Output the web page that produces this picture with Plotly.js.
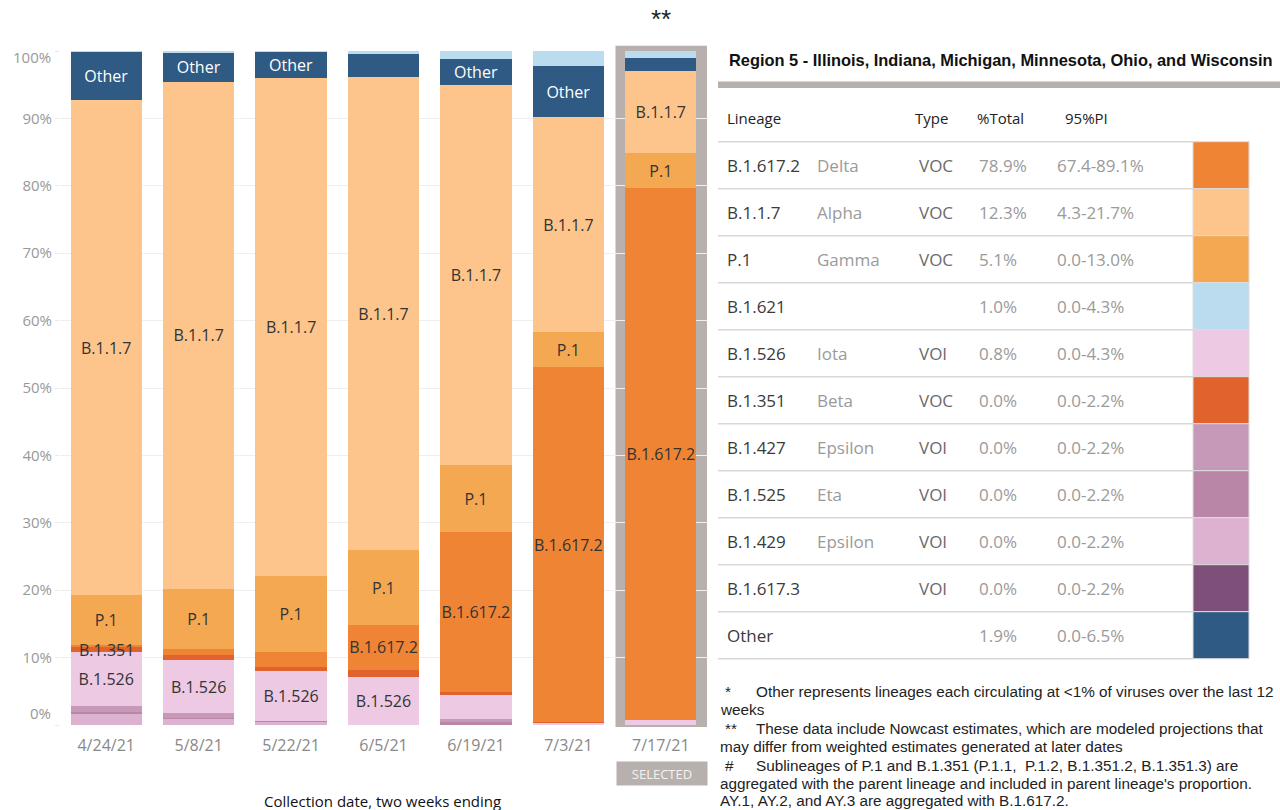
<!DOCTYPE html>
<html><head><meta charset="utf-8">
<script src="https://cdn.plot.ly/plotly-3.0.1.min.js"></script>
<style>html,body{margin:0;padding:0;background:#fff;} #chart{width:1280px;height:810px;}</style>
</head><body><div id="chart"></div>
<script>
// ---------- DATA ----------
const dates = ['4/24/21','5/8/21','5/22/21','6/5/21','6/19/21','7/3/21','7/17/21'];
// stack order bottom -> top
const lineageOrder = ['B.1.429','B.1.525','B.1.617.3','B.1.427','B.1.526','B.1.351','B.1.617.2','P.1','B.1.1.7','Other','B.1.621'];
const b1429  = [1.7, 0.9, 0.4, 0.0, 0.0, 0.0, 0.0];
const b1525  = [0.3, 0.15, 0.25, 0.0, 0.5, 0.0, 0.0];
const b16173 = [0.0, 0.0, 0.0, 0.0, 0.0, 0.0, 0.0];
const b1427  = [0.8, 0.7, 0.0, 0.0, 0.4, 0.0, 0.0];
const b1526  = [8.0, 7.9, 7.4, 7.1, 3.6, 0.35, 0.8];
const b1351  = [0.7, 0.7, 0.6, 1.1, 0.35, 0.1, 0.0];
const b16172 = [0.3, 0.9, 2.2, 6.6, 23.8, 52.6, 78.9];
const p1     = [7.5, 8.9, 11.2, 11.1, 9.9, 5.3, 5.1];
const b117   = [73.4, 75.3, 73.9, 70.3, 56.4, 31.8, 12.3];
const other  = [7.1, 4.3, 3.9, 3.3, 3.9, 7.6, 1.9];
const b1621  = [0.2, 0.2, 0.1, 0.5, 1.2, 2.2, 1.0];
const seriesValues = [b1429, b1525, b16173, b1427, b1526, b1351, b16172, p1, b117, other, b1621];

// which bars carry a text label for each lineage (1 = labelled)
const lblB1526  = [1,1,1,1,0,0,0];
const lblB1351  = [1,0,0,0,0,0,0];
const lblB16172 = [0,0,0,1,1,1,1];
const lblP1     = [1,1,1,1,1,1,1];
const lblB117   = [1,1,1,1,1,1,1];
const lblOther  = [1,1,1,0,1,1,0];
const noLbl     = [0,0,0,0,0,0,0];
const seriesLabels = [noLbl, noLbl, noLbl, noLbl, lblB1526, noLbl, lblB16172, lblP1, lblB117, lblOther, noLbl];

const yTicks = [0,10,20,30,40,50,60,70,80,90,100];
const selectedDate = '7/17/21';

// table (Region 5, latest period)
const tblTitle   = 'Region 5 - Illinois, Indiana, Michigan, Minnesota, Ohio, and Wisconsin';
const tblHeaders = ['Lineage','Type','%Total','95%PI'];
const tblLineage = ['B.1.617.2','B.1.1.7','P.1','B.1.621','B.1.526','B.1.351','B.1.427','B.1.525','B.1.429','B.1.617.3','Other'];
const tblName    = ['Delta','Alpha','Gamma','','Iota','Beta','Epsilon','Eta','Epsilon','',''];
const tblType    = ['VOC','VOC','VOC','','VOI','VOC','VOI','VOI','VOI','VOI',''];
const tblTotal   = ['78.9%','12.3%','5.1%','1.0%','0.8%','0.0%','0.0%','0.0%','0.0%','0.0%','1.9%'];
const tblPI      = ['67.4-89.1%','4.3-21.7%','0.0-13.0%','0.0-4.3%','0.0-4.3%','0.0-2.2%','0.0-2.2%','0.0-2.2%','0.0-2.2%','0.0-2.2%','0.0-6.5%'];

const footnotes = [
  ['*',  'Other represents lineages each circulating at <1% of viruses over the last 12'],
  ['',   'weeks'],
  ['**', 'These data include Nowcast estimates, which are modeled projections that'],
  ['',   'may differ from weighted estimates generated at later dates'],
  ['#',  'Sublineages of P.1 and B.1.351 (P.1.1,  P.1.2, B.1.351.2, B.1.351.3) are'],
  ['',   "aggregated with the parent lineage and included in parent lineage's proportion."],
  ['',   'AY.1, AY.2, and AY.3 are aggregated with B.1.617.2.']
];

// ---------- STYLE ----------
const colors = {
  'B.1.617.2':'#ef8435','B.1.1.7':'#fdc58b','P.1':'#f3a851','B.1.621':'#badcee',
  'B.1.526':'#edc9e3','B.1.351':'#e0622c','B.1.427':'#c799b9','B.1.525':'#b986a8',
  'B.1.429':'#ddb2d1','B.1.617.3':'#7e4f79','Other':'#2e5a83'
};
const W = 1280, H = 810, ML = 60, MR = 573, MT = 51, MB = 85;
const PW = W - ML - MR, PH = H - MT - MB;
const fx = px => (px - ML) / PW;
const fy = py => (H - MB - py) / PH;
const TF = 'Open Sans, sans-serif';
const AF = 'Liberation Sans, Arial, sans-serif';
const GREY = '#b8b0ad';

// ---------- TRACES ----------
const traces = lineageOrder.map((name, k) => ({
  type: 'bar',
  name: name,
  x: dates,
  y: seriesValues[k],
  marker: {color: colors[name], line: {width: 0}},
  text: seriesLabels[k].map(f => f ? name : ''),
  textposition: 'inside',
  insidetextanchor: 'middle',
  textangle: 0,
  constraintext: 'none',
  textfont: {family: TF, size: 16, color: name === 'Other' ? '#ffffff' : '#333333'},
  hoverinfo: 'x+y+name'
}));

// ---------- ANNOTATIONS ----------
const ann = [];
function txt(text, px, py, font, extra) {
  ann.push(Object.assign({text: text, xref: 'paper', yref: 'paper', x: fx(px), y: fy(py),
    showarrow: false, xanchor: 'left', yanchor: 'middle', font: font}, extra || {}));
}
// B.1.351 label in first bar (overflows its thin segment)
(function () {
  const k = lineageOrder.indexOf('B.1.351');
  dates.forEach((d, i) => {
    if (!lblB1351[i]) return;
    let base = 0;
    for (let j = 0; j < k; j++) base += seriesValues[j][i];
    ann.push({text: 'B.1.351', x: d, y: base + seriesValues[k][i] / 2, xref: 'x', yref: 'y',
      showarrow: false, xanchor: 'center', yanchor: 'middle',
      font: {family: TF, size: 16, color: '#333'}});
  });
})();
// end y tick labels (drawn inside like the original)
txt('100%', 53, 57, {family: TF, size: 15, color: '#999'}, {xanchor: 'right'});
txt('0%', 53, 713, {family: TF, size: 15, color: '#999'}, {xanchor: 'right'});
// x title
txt('Collection date, two weeks ending', 382, 801, {family: TF, size: 15, color: '#111'}, {xanchor: 'center'});
// nowcast marker and selected badge
txt('**', 661, 19, {family: AF, size: 26, color: '#222'}, {xanchor: 'center'});
txt('SELECTED', 662, 773, {family: TF, size: 13, color: '#f4f2f1'},
    {xanchor: 'center', bgcolor: GREY, width: 90, height: 23, borderpad: 0});

// table
txt(tblTitle, 727, 60, {family: AF, size: 16.4, color: '#111', weight: 'bold'});
const colX = [725, 815, 917, 977, 1055];
const hdrX = [725, 913, 975, 1063];
tblHeaders.forEach((h, i) => txt(h, hdrX[i], 118, {family: TF, size: 15, color: '#222'}));
const ROW0 = 141.7, RH = 47;
tblLineage.forEach((l, i) => {
  const cy = ROW0 + RH * i + RH / 2;
  txt(l, colX[0], cy, {family: TF, size: 17, color: '#3a3a3a'});
  if (tblName[i]) txt(tblName[i], colX[1], cy, {family: TF, size: 17, color: '#9a9a9a'});
  if (tblType[i]) txt(tblType[i], colX[2], cy, {family: TF, size: 17, color: '#6a6a6a'});
  txt(tblTotal[i], colX[3], cy, {family: TF, size: 17, color: '#9a9a9a'});
  txt(tblPI[i], colX[4], cy, {family: TF, size: 17, color: '#9a9a9a'});
});
// footnotes
const fnY = [691, 709, 728, 746, 765, 783, 801];
footnotes.forEach((f, i) => {
  if (f[0]) {
    txt(f[0], 723, fnY[i], {family: AF, size: 15.3, color: '#222'});
    txt(f[1], 754, fnY[i], {family: AF, size: 15.3, color: '#222'});
  } else {
    txt(f[1], 718, fnY[i], {family: AF, size: 15.3, color: '#222'});
  }
});

// ---------- SHAPES ----------
const shapes = [];
const selIdx = dates.indexOf(selectedDate);
shapes.push({type: 'rect', layer: 'below', xref: 'x', yref: 'paper',
  x0: selIdx - 0.49, x1: selIdx + 0.5, y0: fy(727), y1: fy(45.7),
  fillcolor: GREY, line: {width: 0}});
function rectPx(x0, y0, x1, y1, fill, line) {
  shapes.push({type: 'rect', xref: 'paper', yref: 'paper', x0: fx(x0), x1: fx(x1), y0: fy(y1), y1: fy(y0),
    fillcolor: fill, line: line || {width: 0}});
}
function linePx(x0, y0, x1, y1, color, w) {
  shapes.push({type: 'line', xref: 'paper', yref: 'paper', x0: fx(x0), x1: fx(x1), y0: fy(y0), y1: fy(y1),
    line: {color: color, width: w}});
}
rectPx(718, 81.5, 1280, 88, GREY);
for (let i = 0; i <= tblLineage.length; i++) {
  linePx(718, ROW0 + RH * i, 1193, ROW0 + RH * i, '#d8d8d8', 1.5);
}
tblLineage.forEach((l, i) => {
  rectPx(1193, ROW0 + RH * i, 1249, ROW0 + RH * (i + 1), colors[l], {color: '#dcdcdc', width: 1});
});

// ---------- LAYOUT ----------
const layout = {
  width: W, height: H,
  margin: {l: ML, r: MR, t: MT, b: MB, pad: 0},
  paper_bgcolor: '#ffffff', plot_bgcolor: '#ffffff',
  barmode: 'stack', bargap: 0.23,
  showlegend: false,
  font: {family: TF},
  xaxis: {type: 'category', showgrid: false, zeroline: false, showline: false, ticks: '',
    ticklabelstandoff: 9,
    tickfont: {family: TF, size: 16, color: '#888'}, fixedrange: true},
  yaxis: {range: [0, 100], tickvals: yTicks,
    ticktext: yTicks.map(v => (v === 0 || v === 100) ? '' : v + '%'),
    showgrid: true, gridcolor: '#efefef', gridwidth: 1, zeroline: false, showline: false,
    ticks: 'outside', ticklen: 4, tickcolor: '#e8e8e8',
    tickfont: {family: TF, size: 15, color: '#999'}, fixedrange: true},
  annotations: ann,
  shapes: shapes
};
Plotly.newPlot('chart', traces, layout, {displayModeBar: false, staticPlot: true});
</script>
</body></html>
